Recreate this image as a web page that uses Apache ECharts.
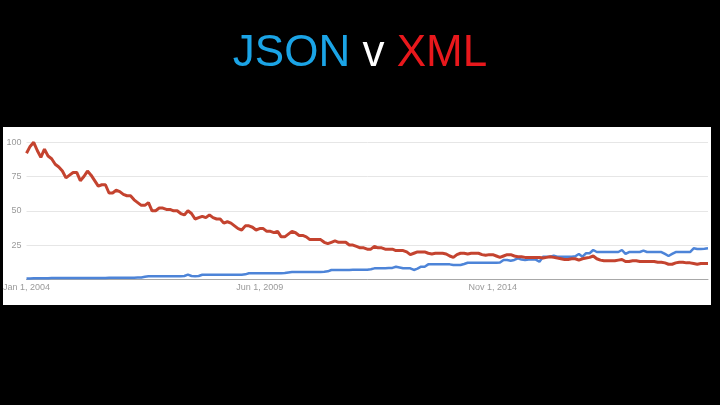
<!DOCTYPE html>
<html>
<head>
<meta charset="utf-8">
<script src="https://cdn.jsdelivr.net/npm/echarts@6/dist/echarts.min.js"></script>
<style>
html,body{margin:0;padding:0;background:#000;}
#c{width:720px;height:405px;}
</style>
</head>
<body>
<div id="c"></div>
<script>
// Monthly categories, Jan 2004 .. Nov 2019
const startYear = 2004;
const monthCount = 191;
const categories = [];
for (let i = 0; i < monthCount; i++) {
  const y = startYear + Math.floor(i / 12);
  const m = (i % 12) + 1;
  categories.push(y + '-' + (m < 10 ? '0' + m : m));
}

const tickMonths = ['2004-01', '2009-06', '2014-11'];
const tickLabels = ['Jan 1, 2004', 'Jun 1, 2009', 'Nov 1, 2014'];
const yTicks = [0, 25, 50, 75, 100];

const seriesNames = ['JSON', 'XML'];

const xmlValues = [
  92, 97, 100, 94, 89, 95, 90, 88, 84, 82,
  79, 74, 76, 78, 78, 72, 75, 79, 76, 72,
  68, 69, 69, 63, 63, 65, 64, 62, 61, 61,
  58, 56, 54, 54, 56, 50, 50, 52, 52, 51,
  51, 50, 50, 48, 47, 50, 48, 44, 45, 46,
  45, 47, 45, 44, 44, 41, 42, 41, 39, 37,
  36, 39, 39, 38, 36, 37, 37, 35, 35, 34,
  35, 31, 31, 33, 35, 34, 32, 32, 31, 29,
  29, 29, 29, 27, 26, 27, 28, 27, 27, 27,
  25, 25, 24, 23, 23, 22, 22, 24, 23, 23,
  22, 22, 22, 21, 21, 21, 20, 18, 19, 20,
  20, 20, 19, 18.5, 19, 19, 19, 18.5, 17, 16,
  18, 19, 19, 18.5, 19, 19, 19, 18, 17.5, 18,
  18, 17, 16, 17, 18, 18, 17, 16.5, 16.5, 16,
  16, 16, 16, 16, 15.5, 16, 16.5, 16, 15.5, 15,
  14.5, 14.5, 15, 15, 14, 15, 15.5, 16, 17, 15,
  14, 13.5, 13.5, 13.5, 13.5, 14, 14.5, 13, 13, 13.5,
  13.5, 13, 13, 13, 13, 13, 12.5, 12.5, 12, 11,
  11, 12, 12.5, 12.5, 12, 12, 11.5, 11, 11.5, 11.5,
  11.5
];

const jsonValues = [
  0.6, 0.6, 0.7, 0.7, 0.8, 0.8, 0.8, 0.9, 0.9, 0.9,
  0.9, 1, 1, 1, 1, 1, 1, 1, 1, 1,
  1, 1, 1, 1.1, 1.2, 1.2, 1.2, 1.2, 1.2, 1.2,
  1.2, 1.3, 1.3, 1.8, 2.2, 2.2, 2.2, 2.2, 2.2, 2.2,
  2.2, 2.2, 2.3, 2.3, 2.4, 3.4, 2.4, 2.3, 2.4, 3.3,
  3.4, 3.4, 3.4, 3.4, 3.4, 3.4, 3.4, 3.3, 3.3, 3.3,
  3.4, 3.6, 4.4, 4.4, 4.4, 4.4, 4.4, 4.4, 4.4, 4.4,
  4.4, 4.5, 4.6, 5.0, 5.3, 5.3, 5.3, 5.3, 5.3, 5.3,
  5.3, 5.4, 5.4, 5.5, 5.8, 6.8, 6.8, 6.8, 6.8, 6.8,
  6.8, 6.9, 6.9, 7.0, 7.0, 7.0, 7.3, 8, 8, 8,
  8, 8.2, 8.3, 9.2, 8.6, 8, 8, 8, 6.8, 7.8,
  9.2, 9.2, 10.9, 10.9, 10.9, 10.9, 10.9, 10.9, 10.9, 10.4,
  10.4, 10.4, 11.2, 12.1, 12.1, 12.1, 12.1, 12.1, 12.1, 12.1,
  12.1, 12.1, 12.3, 14.1, 14.1, 13.6, 14.1, 15.3, 14.4, 14.1,
  14.4, 14.4, 14.4, 12.8, 16.5, 16.5, 16.5, 17.2, 16.5, 16.5,
  16.5, 16.5, 16.5, 16.8, 18.5, 16.5, 19, 19, 21.4, 19.9,
  19.9, 19.9, 19.9, 19.9, 19.9, 19.9, 21.4, 18.5, 19.9, 19.9,
  19.9, 19.9, 20.9, 19.9, 19.9, 19.9, 19.9, 19.9, 18.5, 17,
  18.5, 19.9, 19.9, 19.9, 19.9, 19.9, 22.6, 22.1, 22.1, 22.3,
  22.6
];

const colors = ['#4d84d8', '#c4432f'];

const chart = echarts.init(document.getElementById('c'), null, {renderer: 'canvas'});
const titleFont = {fontFamily: 'Liberation Sans', fontSize: 44, fontWeight: 'normal'};
chart.setOption({
  backgroundColor: '#000',
  animation: false,
  title: {
    left: 'center',
    top: 27,
    text: '{a|JSON} {b|v} {c|XML}',
    textStyle: {
      fontFamily: 'Liberation Sans',
      fontSize: 44,
      fontWeight: 'normal',
      color: '#fff',
      rich: {
        a: Object.assign({color: '#1ba4e6'}, titleFont),
        b: Object.assign({color: '#ffffff'}, titleFont),
        c: Object.assign({color: '#e8181c'}, titleFont)
      }
    }
  },
  graphic: [{
    type: 'rect',
    z: -10,
    silent: true,
    shape: {x: 3, y: 127, width: 708, height: 178},
    style: {fill: '#ffffff'}
  }],
  grid: {left: 25, right: 12, top: 142.3, bottom: 125.7, containLabel: false},
  xAxis: {
    type: 'category',
    data: categories,
    boundaryGap: false,
    axisLine: {show: true, lineStyle: {color: '#a8a8a8', width: 1}},
    axisTick: {show: false},
    splitLine: {show: false},
    axisLabel: {
      interval: function (idx, val) { return tickMonths.indexOf(val) >= 0; },
      formatter: function (val) {
        const k = tickMonths.indexOf(val);
        return k >= 0 ? tickLabels[k] : '';
      },
      color: '#9a9a9a',
      fontFamily: 'Liberation Sans',
      fontSize: 9,
      margin: 4,
      hideOverlap: false
    }
  },
  yAxis: {
    type: 'value',
    min: yTicks[0],
    max: yTicks[yTicks.length - 1],
    interval: 25,
    axisLine: {show: false},
    axisTick: {show: false},
    splitLine: {lineStyle: {color: '#e6e6e6', width: 1}},
    axisLabel: {
      formatter: function (v) { return v === 0 ? '' : String(v); },
      color: '#9a9a9a',
      fontFamily: 'Liberation Sans',
      fontSize: 9,
      margin: 5
    }
  },
  series: [
    {
      name: seriesNames[0],
      type: 'line',
      data: jsonValues,
      showSymbol: false,
      symbol: 'none',
      lineStyle: {color: colors[0], width: 2.5},
      z: 2
    },
    {
      name: seriesNames[1],
      type: 'line',
      data: xmlValues,
      showSymbol: false,
      symbol: 'none',
      lineStyle: {color: colors[1], width: 3},
      z: 3
    }
  ]
});
</script>
</body>
</html>
